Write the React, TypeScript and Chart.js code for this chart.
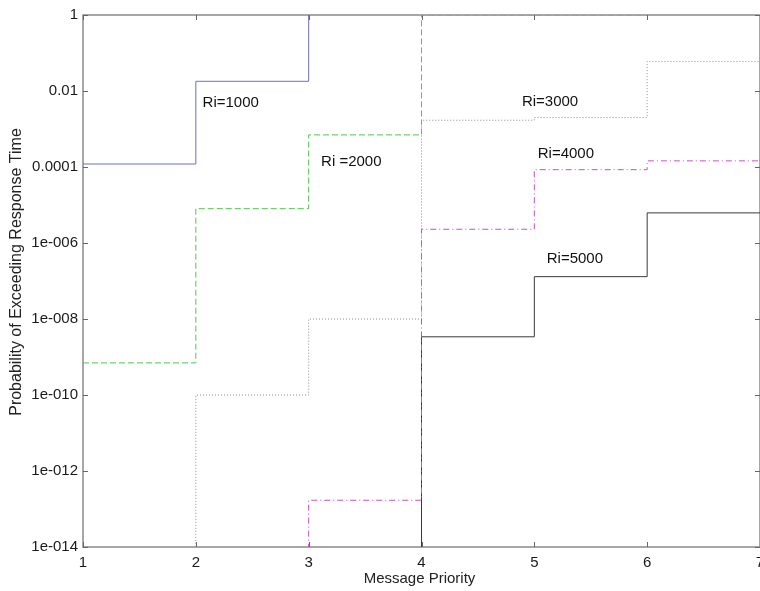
import React, { useEffect, useRef } from "react";
import { Chart, registerables } from "chart.js";

Chart.register(...registerables);

// ---- data ----
const priorities = [1, 2, 3, 4, 5, 6, 7];
const ri1000 = [1.2e-4, 1.8e-2, 1];
const ri2000 = [7e-10, 8e-6, 7e-4, 1, 1, 1];
const ri3000 = [1e-16, 1e-10, 1e-8, 1.7e-3, 2e-3, 6e-2, 6e-2];
const ri4000 = [1e-16, 1e-16, 1.7e-13, 2.3e-6, 8.5e-5, 1.45e-4, 1.45e-4];
const ri5000 = [1e-16, 1e-16, 1e-16, 3.4e-9, 1.3e-7, 6.2e-6, 6.2e-6];

const seriesNames = ["Ri=1000", "Ri =2000", "Ri=3000", "Ri=4000", "Ri=5000"];
const labelX = [2.06, 3.11, 4.89, 5.03, 5.11];
const labelY = [4.8e-3, 1.35e-4, 5.1e-3, 2.2e-4, 3.8e-7];

const xTickLabels = ["1", "2", "3", "4", "5", "6", "7"];
const yTickValues = [1, 1e-2, 1e-4, 1e-6, 1e-8, 1e-10, 1e-12, 1e-14];
const yTickLabels = ["1", "0.01", "0.0001", "1e-006", "1e-008", "1e-010", "1e-012", "1e-014"];

const xTitle = "Message Priority";
const yTitle = "Probability of Exceeding Response Time";

const FONT = "'Liberation Sans', Arial, Helvetica, sans-serif";

const toPoints = (vals: number[]) => vals.map((v, i) => ({ x: priorities[i], y: v }));

const framePlugin = {
  id: "frame",
  beforeDatasetsDraw(chart: any) {
    const { ctx, chartArea } = chart;
    const { left, right, top, bottom } = chartArea;
    ctx.save();
    ctx.strokeStyle = "#8a8a8a";
    ctx.lineWidth = 1.5;
    ctx.strokeRect(left, top, right - left, bottom - top);
    ctx.lineWidth = 1;
    ctx.strokeStyle = "#666";
    const xs = chart.scales.x;
    const ys = chart.scales.y;
    const tl = 5;
    ctx.beginPath();
    priorities.forEach((p) => {
      const px = Math.round(xs.getPixelForValue(p)) + 0.5;
      ctx.moveTo(px, bottom);
      ctx.lineTo(px, bottom - tl);
      ctx.moveTo(px, top);
      ctx.lineTo(px, top + tl);
    });
    yTickValues.forEach((v) => {
      const py = Math.round(ys.getPixelForValue(v)) + 0.5;
      ctx.moveTo(left, py);
      ctx.lineTo(left + tl, py);
      ctx.moveTo(right, py);
      ctx.lineTo(right - tl, py);
    });
    ctx.stroke();
    ctx.restore();
  },
  afterDatasetsDraw(chart: any) {
    const { ctx, chartArea } = chart;
    const xs = chart.scales.x;
    const ys = chart.scales.y;
    ctx.save();
    ctx.fillStyle = "#111";
    ctx.font = `15px ${FONT}`;
    ctx.textAlign = "left";
    ctx.textBaseline = "middle";
    seriesNames.forEach((n, i) => {
      ctx.fillText(n, xs.getPixelForValue(labelX[i]), ys.getPixelForValue(labelY[i]));
    });
    // axis titles
    ctx.fillStyle = "#222";
    ctx.textAlign = "center";
    ctx.font = `15px ${FONT}`;
    ctx.fillText(xTitle, (chartArea.left + chartArea.right) / 2 - 2, 579);
    ctx.translate(17, 272);
    ctx.rotate(-Math.PI / 2);
    ctx.font = `16px ${FONT}`;
    ctx.fillText(yTitle, 0, 0);
    ctx.restore();
  },
};

export default function App() {
  const ref = useRef<HTMLCanvasElement | null>(null);

  useEffect(() => {
    if (!ref.current) return;
    const base = { pointRadius: 0, borderWidth: 1, stepped: "before", fill: false };
    const chart = new Chart(ref.current, {
      type: "line",
      data: {
        datasets: [
          { ...base, label: seriesNames[0], data: toPoints(ri1000), borderColor: "#6e6ecc" },
          { ...base, label: seriesNames[1], data: toPoints(ri2000), borderColor: "#4fc74f", borderDash: [6, 3] },
          { ...base, label: seriesNames[2], data: toPoints(ri3000), borderColor: "#8f8f8f", borderDash: [1, 2] },
          { ...base, label: seriesNames[3], data: toPoints(ri4000), borderColor: "#c94fc9", borderDash: [6, 3, 1, 3] },
          { ...base, label: seriesNames[4], data: toPoints(ri5000), borderColor: "#3a3a3a" },
        ] as any,
      },
      options: {
        responsive: false,
        animation: false,
        layout: { padding: { top: 15, right: 40, left: 0, bottom: 0 } },
        plugins: { legend: { display: false }, tooltip: { enabled: false } },
        scales: {
          x: {
            type: "linear",
            min: 1,
            max: 7,
            grid: { display: false, drawTicks: false },
            border: { display: false },
            ticks: {
              stepSize: 1,
              padding: 7,
              color: "#1a1a1a",
              font: { family: FONT, size: 15 },
              callback: (_v: any, i: number) => xTickLabels[i],
            },
            afterFit: (s: any) => {
              s.height = 44;
            },
          },
          y: {
            type: "logarithmic",
            min: 1e-14,
            max: 1,
            grid: { display: false, drawTicks: false },
            border: { display: false },
            afterBuildTicks: (s: any) => {
              s.ticks = yTickValues.map((v) => ({ value: v }));
            },
            ticks: {
              autoSkip: false,
              padding: 5,
              color: "#1a1a1a",
              font: { family: FONT, size: 15 },
              callback: (_v: any, i: number) => yTickLabels[i],
            },
            afterFit: (s: any) => {
              s.width = 83;
            },
          },
        },
      } as any,
      plugins: [framePlugin],
    });
    return () => chart.destroy();
  }, []);

  return (
    <div
      style={{
        position: "fixed",
        left: 0,
        top: 0,
        width: 760,
        height: 591,
        overflow: "hidden",
        background: "#fff",
      }}
    >
      <canvas ref={ref} width={800} height={591} style={{ display: "block" }} />
    </div>
  );
}
